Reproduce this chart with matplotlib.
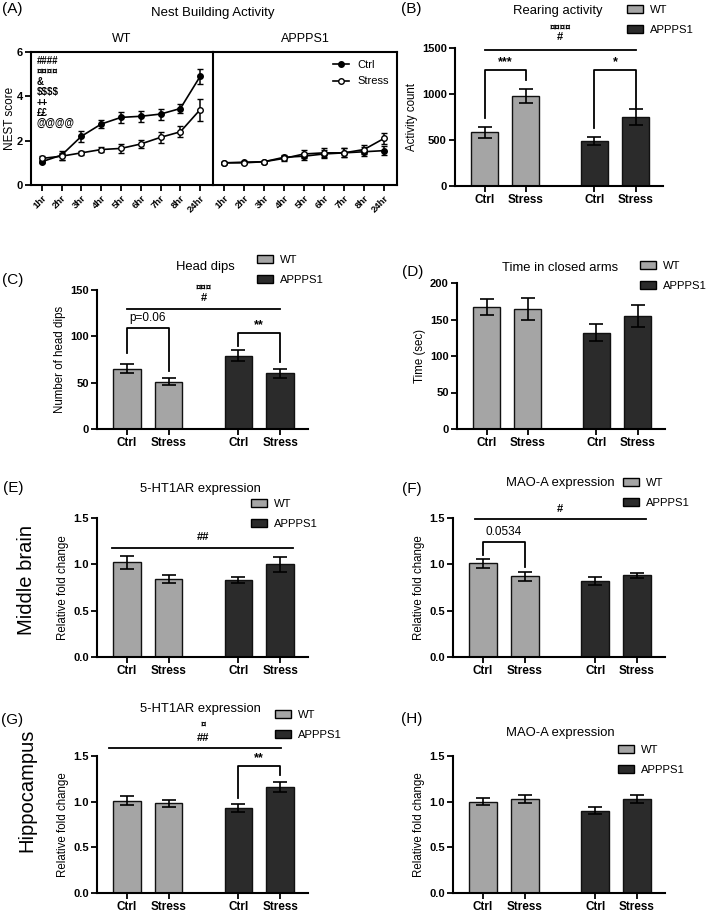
import matplotlib
matplotlib.use("Agg")
import matplotlib.pyplot as plt
from matplotlib.patches import Patch
from matplotlib.lines import Line2D

plt.rcParams['font.family'] = ['Liberation Sans', 'DejaVu Sans']

# ---- data ----
hours = ['1hr', '2hr', '3hr', '4hr', '5hr', '6hr', '7hr', '8hr', '24hr']
wt_ctrl = [1.05, 1.35, 2.2, 2.75, 3.05, 3.1, 3.2, 3.45, 4.9]
wt_ctrl_err = [0.08, 0.2, 0.25, 0.2, 0.25, 0.25, 0.25, 0.2, 0.35]
wt_stress = [1.2, 1.3, 1.45, 1.6, 1.65, 1.85, 2.15, 2.4, 3.4]
wt_stress_err = [0.1, 0.15, 0.1, 0.12, 0.2, 0.2, 0.25, 0.25, 0.5]
app_ctrl = [1.0, 1.03, 1.05, 1.25, 1.3, 1.4, 1.45, 1.5, 1.55]
app_ctrl_err = [0.04, 0.05, 0.04, 0.1, 0.15, 0.2, 0.2, 0.2, 0.2]
app_stress = [1.0, 1.0, 1.05, 1.2, 1.4, 1.45, 1.45, 1.6, 2.1]
app_stress_err = [0.04, 0.05, 0.04, 0.1, 0.2, 0.2, 0.2, 0.2, 0.25]
nest_marks = ['####', '¤¤¤¤', '&', '$$$$', '++', '££', '@@@@']

bar_labels = ['Ctrl', 'Stress', 'Ctrl', 'Stress']
rearing = [585, 975, 490, 750]
rearing_err = [60, 75, 45, 90]
head_dips = [65, 51, 79, 60]
head_dips_err = [5, 4, 6, 5]
closed_arms = [167, 165, 132, 155]
closed_arms_err = [11, 15, 12, 15]
ht1ar_mid = [1.02, 0.84, 0.83, 1.0]
ht1ar_mid_err = [0.07, 0.04, 0.03, 0.08]
maoa_mid = [1.01, 0.87, 0.82, 0.88]
maoa_mid_err = [0.05, 0.05, 0.04, 0.03]
ht1ar_hip = [1.01, 0.98, 0.93, 1.16]
ht1ar_hip_err = [0.05, 0.04, 0.04, 0.05]
maoa_hip = [1.0, 1.03, 0.9, 1.03]
maoa_hip_err = [0.04, 0.04, 0.04, 0.04]

W, H = 709, 914
fig = plt.figure(figsize=(W / 100, H / 100), dpi=100)

pos = [0, 1, 2.68, 3.68]
light = '#a5a5a5'
dark = '#2b2b2b'
cols = [light, light, dark, dark]


def add_ax(l, t, r, b):
    return fig.add_axes([l / W, 1 - b / H, (r - l) / W, (b - t) / H])


def ft(x, y, s, **kw):
    kw.setdefault('ha', 'center')
    kw.setdefault('va', 'center')
    fig.text(x / W, 1 - y / H, s, **kw)


def style(ax):
    for s in ['top', 'right']:
        ax.spines[s].set_visible(False)
    for s in ['left', 'bottom']:
        ax.spines[s].set_linewidth(1.5)
    ax.tick_params(width=1.3, length=4, direction='out', pad=2)


def bar_panel(ax, vals, errs, ylim, yticks, ylabel, fmt=None):
    ax.bar(pos, vals, width=0.66, color=cols, edgecolor='#111111', linewidth=1.0, zorder=2)
    ax.errorbar(pos, vals, yerr=errs, fmt='none', ecolor='black', elinewidth=1.2,
                capsize=5, capthick=1.2, zorder=3)
    ax.set_xlim(-0.72, 4.35)
    ax.set_ylim(*ylim)
    ylabs = [fmt.format(v) for v in yticks] if fmt else [str(v) for v in yticks]
    ax.set_yticks(yticks, ylabs, fontweight='bold', fontsize=8)
    ax.set_xticks(pos, bar_labels, fontweight='bold', fontsize=8.5)
    ax.set_ylabel(ylabel, fontsize=8.3, labelpad=3)
    style(ax)


def bracket(ax, x0, x1, ytop, y0, y1, txt, ytxt, fs=9):
    ax.plot([x0, x0, x1, x1], [y0, ytop, ytop, y1], color='black', lw=1.3, clip_on=False)
    ax.text((x0 + x1) / 2, ytxt, txt, ha='center', va='center', fontsize=fs,
            fontweight='bold' if '*' in txt else 'normal')


def hline(ax, x0, x1, y):
    ax.plot([x0, x1], [y, y], color='black', lw=1.3, clip_on=False)


def legend(ax, x, y):
    h = [Patch(facecolor=light, edgecolor='black', lw=1),
         Patch(facecolor=dark, edgecolor='black', lw=1)]
    ax.legend(h, ['WT', 'APPPS1'], loc='upper left', bbox_to_anchor=(x / W, 1 - y / H),
              bbox_transform=fig.transFigure, frameon=False, fontsize=8.1,
              handlelength=1.4, handleheight=0.75, borderpad=0, borderaxespad=0,
              handletextpad=0.6, labelspacing=0.85)


# ---- (A) nest building ----
axl = add_ax(31, 52, 213, 185)
axr = add_ax(213, 52, 397, 185)
x = list(range(len(hours)))
for ax, c, ce, s, se in [(axl, wt_ctrl, wt_ctrl_err, wt_stress, wt_stress_err),
                         (axr, app_ctrl, app_ctrl_err, app_stress, app_stress_err)]:
    ax.errorbar(x, c, yerr=ce, color='black', lw=1.2, marker='o', ms=4,
                mfc='black', mec='black', capsize=2.5, elinewidth=1.1, zorder=3)
    ax.errorbar(x, s, yerr=se, color='black', lw=1.2, marker='o', ms=4,
                mfc='white', mec='black', capsize=2.5, elinewidth=1.1, zorder=3)
    ax.set_ylim(0, 6)
    ax.set_xlim(-0.55, 8.65)
    ax.set_xticks(x, hours, rotation=45, ha='right', rotation_mode='anchor',
                  fontweight='bold', fontsize=6.8)
    for sp in ax.spines.values():
        sp.set_linewidth(1.5)
    ax.tick_params(width=1.3, length=4, pad=2)
axl.spines['right'].set_visible(False)
axl.set_yticks([0, 2, 4, 6], ['0', '2', '4', '6'], fontweight='bold', fontsize=8)
axl.set_ylabel('NEST score', fontsize=8.5)
axl.yaxis.set_label_coords(-0.085, 0.5)
axr.set_yticks([])
axl.set_title('WT', fontsize=9, pad=7)
axr.set_title('APPPS1', fontsize=9, pad=7)
axl.text(0.03, 0.97, '\n'.join(nest_marks), transform=axl.transAxes, ha='left', va='top',
         fontsize=7, fontweight='bold', linespacing=1.05, parse_math=False)
lh = [Line2D([], [], color='black', marker='o', ms=4, mfc='black', lw=1.2),
      Line2D([], [], color='black', marker='o', ms=4, mfc='white', lw=1.2)]
axr.legend(lh, ['Ctrl', 'Stress'], loc='upper right', frameon=False, fontsize=8,
           handlelength=1.4, borderaxespad=0.3, labelspacing=0.6)
ft(12, 9, '(A)', fontsize=11)
ft(213, 13, 'Nest Building Activity', fontsize=9.5)

# ---- (B) rearing ----
ax = add_ax(455, 48, 663, 186)
bar_panel(ax, rearing, rearing_err, (0, 1500), [0, 500, 1000, 1500], 'Activity count')
hline(ax, 0, 3.68, 1480)
ax.text(1.84, 1720, '¤¤¤¤', ha='center', va='center', fontsize=7, fontweight='bold')
ax.text(1.84, 1615, '#', ha='center', va='center', fontsize=8, fontweight='bold')
bracket(ax, 0, 1, 1260, 740, 1150, '***', 1345)
bracket(ax, 2.68, 3.68, 1260, 630, 850, '*', 1345)
ft(411, 9, '(B)', fontsize=11)
ft(558, 11, 'Rearing activity', fontsize=9.4)
legend(ax, 627, 5)

# ---- (C) head dips ----
ax = add_ax(97, 290, 308, 429)
bar_panel(ax, head_dips, head_dips_err, (0, 150), [0, 50, 100, 150], 'Number of head dips')
hline(ax, 0, 3.68, 130)
ax.text(1.84, 153, '¤¤¤', ha='center', va='center', fontsize=7, fontweight='bold')
ax.text(1.84, 141, '#', ha='center', va='center', fontsize=8, fontweight='bold')
bracket(ax, 0, 1, 109, 82, 63, 'p=0.06', 120, fs=8.5)
bracket(ax, 2.68, 3.68, 104, 90, 72, '**', 112)
ft(13, 280, '(C)', fontsize=11)
ft(205, 267, 'Head dips', fontsize=9.4)
legend(ax, 257, 255)

# ---- (D) time in closed arms ----
ax = add_ax(457, 283, 665, 429)
bar_panel(ax, closed_arms, closed_arms_err, (0, 200), [0, 50, 100, 150, 200], 'Time (sec)')
ft(413, 272, '(D)', fontsize=11)
ft(560, 268, 'Time in closed arms', fontsize=9.4)
legend(ax, 640, 261)

# ---- (E) middle brain 5-HT1AR ----
ax = add_ax(97, 518, 308, 657)
bar_panel(ax, ht1ar_mid, ht1ar_mid_err, (0, 1.5), [0, 0.5, 1.0, 1.5],
          'Relative fold change', fmt='{:.1f}')
hline(ax, -0.35, 4.0, 1.18)
ax.text(1.84, 1.29, '##', ha='center', va='center', fontsize=8, fontweight='bold')
ft(13, 488, '(E)', fontsize=11)
ft(200, 489, '5-HT1AR expression', fontsize=9.4)
ft(27, 580, 'Middle brain', fontsize=14.5, rotation=90)
legend(ax, 251, 499)

# ---- (F) middle brain MAO-A ----
ax = add_ax(453, 518, 665, 657)
bar_panel(ax, maoa_mid, maoa_mid_err, (0, 1.5), [0, 0.5, 1.0, 1.5],
          'Relative fold change', fmt='{:.1f}')
hline(ax, -0.2, 3.9, 1.49)
ax.text(1.84, 1.60, '#', ha='center', va='center', fontsize=8, fontweight='bold')
bracket(ax, 0, 1, 1.24, 1.10, 0.97, '0.0534', 1.35, fs=8.5)
ft(412, 489, '(F)', fontsize=11)
ft(560, 483, 'MAO-A expression', fontsize=9.4)
legend(ax, 623, 478)

# ---- (G) hippocampus 5-HT1AR ----
ax = add_ax(97, 756, 308, 893)
bar_panel(ax, ht1ar_hip, ht1ar_hip_err, (0, 1.5), [0, 0.5, 1.0, 1.5],
          'Relative fold change', fmt='{:.1f}')
hline(ax, -0.42, 3.7, 1.59)
ax.text(1.84, 1.85, '¤', ha='center', va='center', fontsize=7, fontweight='bold')
ax.text(1.84, 1.70, '##', ha='center', va='center', fontsize=8, fontweight='bold')
bracket(ax, 2.68, 3.68, 1.39, 1.04, 1.29, '**', 1.48)
ft(12, 720, '(G)', fontsize=11)
ft(200, 709, '5-HT1AR expression', fontsize=9.4)
ft(27, 790, 'Hippocampus', fontsize=14.5, rotation=90)
legend(ax, 275, 710)

# ---- (H) hippocampus MAO-A ----
ax = add_ax(453, 756, 665, 893)
bar_panel(ax, maoa_hip, maoa_hip_err, (0, 1.5), [0, 0.5, 1.0, 1.5],
          'Relative fold change', fmt='{:.1f}')
ft(412, 719, '(H)', fontsize=11)
ft(560, 733, 'MAO-A expression', fontsize=9.4)
legend(ax, 618, 745)

fig.savefig('out.png', dpi=100)
